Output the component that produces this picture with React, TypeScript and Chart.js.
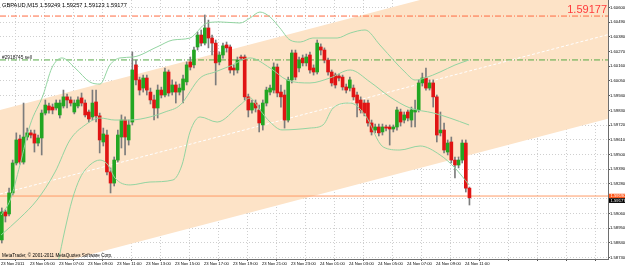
import React, { useEffect, useRef } from "react";
import { Chart, registerables } from "chart.js";

Chart.register(...registerables);

const FONT = '"Liberation Sans", Arial, sans-serif';

const headerText = "GBPAUD,M15 1.59249 1.59257 1.59123 1.59177";
const orderLabel = "#2918745 sell";
const copyrightText = "MetaTrader, \u00a9 2001-2011 MetaQuotes Software Corp.";
const alertText = "1.59177";

const timeLabels = [
  "23 Nov 2011", "23 Nov 05:00", "23 Nov 07:00", "23 Nov 09:00", "23 Nov 11:00",
  "23 Nov 13:00", "23 Nov 15:00", "23 Nov 17:00", "23 Nov 19:00", "23 Nov 21:00",
  "23 Nov 23:00", "24 Nov 01:00", "24 Nov 03:00", "24 Nov 05:00", "24 Nov 07:00",
  "24 Nov 09:00", "24 Nov 11:00",
];
const timeLabelBars = [0, 8, 16, 24, 32, 40, 48, 56, 64, 72, 80, 88, 96, 104, 112, 120, 128, 136, 144, 152, 160];

const priceTicks = [
  1.606, 1.6049, 1.6038, 1.6027, 1.6016, 1.6005, 1.5994, 1.5983, 1.5972,
  1.5961, 1.595, 1.5939, 1.5928, 1.5917, 1.5906, 1.5895, 1.5884, 1.5873,
];

const opens = [
  1.58862, 1.59071, 1.59056, 1.59213, 1.59437, 1.59616, 1.59444, 1.59631, 1.59662, 1.59654,
  1.59586, 1.59624, 1.59810, 1.59863, 1.59855, 1.59848, 1.59796, 1.59863, 1.59931, 1.59908,
  1.59818, 1.59863, 1.59923, 1.59885, 1.59818, 1.59781, 1.59893, 1.59789, 1.59594, 1.59646,
  1.59370, 1.59287, 1.59459, 1.59631, 1.59758, 1.59609, 1.59743, 1.60170, 1.60058, 1.59997,
  1.60072, 1.59967, 1.59908, 1.59848, 1.59982, 1.59945, 1.60117, 1.59967, 1.60020, 1.59967,
  1.59982, 1.60043, 1.60192, 1.60170, 1.60304, 1.60393, 1.60333, 1.60446, 1.60371, 1.60333,
  1.60192, 1.60244, 1.60319, 1.60304, 1.60147, 1.60132, 1.60229, 1.60229, 1.59931, 1.59833,
  1.59885, 1.59833, 1.59721, 1.59885, 1.59967, 1.59982, 1.60154, 1.59967, 1.59945, 1.59758,
  1.60058, 1.60259, 1.60147, 1.60221, 1.60185, 1.60244, 1.60147, 1.60117, 1.60304, 1.60281,
  1.60206, 1.60117, 1.60094, 1.60087, 1.60079, 1.60005, 1.59997, 1.59997, 1.59945, 1.59908,
  1.59885, 1.59885, 1.59736, 1.59683, 1.59706, 1.59669, 1.59706, 1.59706, 1.59691, 1.59706,
  1.59818, 1.59758, 1.59818, 1.59758, 1.59818, 1.59833, 1.60035, 1.60072, 1.59997, 1.60035,
  1.59931, 1.59662, 1.59683, 1.59519, 1.59594, 1.59459, 1.59422, 1.59459, 1.59586, 1.59249,
];
const highs = [
  1.59101, 1.59086, 1.59250, 1.59459, 1.59662, 1.59646, 1.59885, 1.59698, 1.59683, 1.59683,
  1.59646, 1.59833, 1.59908, 1.59885, 1.59878, 1.59908, 1.59908, 1.59982, 1.59952, 1.59931,
  1.59908, 1.59931, 1.59960, 1.59908, 1.59833, 1.59982, 1.59982, 1.59810, 1.59698, 1.59683,
  1.59400, 1.59482, 1.59683, 1.59796, 1.59781, 1.59758, 1.60266, 1.60206, 1.60079, 1.60094,
  1.60094, 1.59997, 1.59945, 1.60020, 1.60004, 1.60147, 1.60132, 1.60058, 1.60043, 1.60027,
  1.60094, 1.60192, 1.60229, 1.60304, 1.60416, 1.60431, 1.60543, 1.60505, 1.60393, 1.60356,
  1.60266, 1.60333, 1.60341, 1.60319, 1.60170, 1.60229, 1.60244, 1.60244, 1.59952, 1.59908,
  1.59908, 1.59870, 1.59908, 1.60004, 1.60020, 1.60185, 1.60177, 1.60020, 1.59982, 1.60079,
  1.60281, 1.60281, 1.60229, 1.60244, 1.60251, 1.60266, 1.60170, 1.60356, 1.60327, 1.60297,
  1.60221, 1.60132, 1.60109, 1.60102, 1.60094, 1.60027, 1.60079, 1.60020, 1.59967, 1.59931,
  1.59908, 1.59908, 1.59758, 1.59728, 1.59728, 1.59728, 1.59721, 1.59721, 1.59721, 1.59855,
  1.59840, 1.59818, 1.59833, 1.59855, 1.59908, 1.60058, 1.60109, 1.60147, 1.60058, 1.60058,
  1.59945, 1.59818, 1.59736, 1.59609, 1.59631, 1.59482, 1.59482, 1.59609, 1.59609, 1.59257,
];
const lows = [
  1.58839, 1.58996, 1.59041, 1.59198, 1.59422, 1.59429, 1.59429, 1.59609, 1.59624, 1.59519,
  1.59564, 1.59497, 1.59796, 1.59810, 1.59804, 1.59833, 1.59773, 1.59848, 1.59848, 1.59863,
  1.59804, 1.59848, 1.59863, 1.59781, 1.59743, 1.59758, 1.59743, 1.59512, 1.59564, 1.59347,
  1.59213, 1.59265, 1.59444, 1.59549, 1.59497, 1.59571, 1.59721, 1.60020, 1.59945, 1.59967,
  1.59945, 1.59878, 1.59758, 1.59773, 1.59923, 1.59931, 1.59937, 1.59945, 1.59885, 1.59945,
  1.59885, 1.60020, 1.60132, 1.60147, 1.60281, 1.60312, 1.60319, 1.60297, 1.60244, 1.60020,
  1.60170, 1.60221, 1.60266, 1.60109, 1.60094, 1.60109, 1.60206, 1.59908, 1.59781, 1.59810,
  1.59818, 1.59669, 1.59683, 1.59863, 1.59945, 1.59960, 1.59931, 1.59855, 1.59698, 1.59743,
  1.60035, 1.60058, 1.60117, 1.60162, 1.60162, 1.60109, 1.60094, 1.60102, 1.60244, 1.60185,
  1.60094, 1.60012, 1.59997, 1.60050, 1.59982, 1.59960, 1.59975, 1.59908, 1.59781, 1.59810,
  1.59789, 1.59713, 1.59646, 1.59662, 1.59639, 1.59646, 1.59676, 1.59571, 1.59669, 1.59683,
  1.59713, 1.59736, 1.59751, 1.59706, 1.59706, 1.59818, 1.60012, 1.59982, 1.59982, 1.59855,
  1.59594, 1.59639, 1.59512, 1.59497, 1.59437, 1.59325, 1.59400, 1.59437, 1.59220, 1.59123,
];
const closes = [
  1.59071, 1.59041, 1.59213, 1.59437, 1.59609, 1.59444, 1.59631, 1.59662, 1.59646, 1.59586,
  1.59624, 1.59810, 1.59870, 1.59833, 1.59833, 1.59885, 1.59885, 1.59931, 1.59908, 1.59885,
  1.59885, 1.59908, 1.59885, 1.59796, 1.59766, 1.59885, 1.59789, 1.59609, 1.59654, 1.59370,
  1.59287, 1.59459, 1.59646, 1.59758, 1.59631, 1.59721, 1.60132, 1.60058, 1.59982, 1.60072,
  1.59982, 1.59908, 1.59848, 1.59982, 1.59945, 1.60117, 1.59960, 1.60020, 1.59967, 1.59997,
  1.60065, 1.60170, 1.60154, 1.60281, 1.60393, 1.60333, 1.60446, 1.60371, 1.60333, 1.60185,
  1.60244, 1.60312, 1.60297, 1.60132, 1.60132, 1.60206, 1.60221, 1.59931, 1.59833, 1.59885,
  1.59848, 1.59736, 1.59885, 1.59982, 1.59997, 1.60154, 1.59960, 1.59931, 1.59758, 1.60058,
  1.60259, 1.60079, 1.60206, 1.60185, 1.60229, 1.60132, 1.60117, 1.60333, 1.60281, 1.60206,
  1.60117, 1.60035, 1.60020, 1.60072, 1.60005, 1.59982, 1.60058, 1.59931, 1.59885, 1.59833,
  1.59810, 1.59736, 1.59669, 1.59706, 1.59662, 1.59706, 1.59698, 1.59691, 1.59706, 1.59833,
  1.59743, 1.59796, 1.59773, 1.59833, 1.59833, 1.60035, 1.60072, 1.59997, 1.60035, 1.59931,
  1.59646, 1.59683, 1.59534, 1.59586, 1.59459, 1.59422, 1.59459, 1.59586, 1.59249, 1.59177,
];

const upperBandBars = [
  -0.2, 2.3, 5.0, 7.8, 11.4, 13.8, 16.6, 20.2, 24.3, 27.1, 29.8, 32.6, 36.2, 42.8, 47.2, 51.9,
  56.6, 60.2, 65.7, 68.5, 71.2, 74.0, 76.7, 79.5, 82.3, 85.8, 92.5, 96.1, 100.2, 104.3, 108.5,
  111.2, 114.0, 116.7, 120.9, 125.0, 128.9,
];
const upperBand = [
  1.59048, 1.5916, 1.59422, 1.59721, 1.59945, 1.60147, 1.60222, 1.60147, 1.60042, 1.60027,
  1.60169, 1.60222, 1.60229, 1.60304, 1.60356, 1.60371, 1.60483, 1.60491, 1.60483, 1.60521,
  1.60565, 1.60528, 1.60446, 1.60356, 1.60341, 1.60371, 1.60371, 1.60408, 1.60431, 1.60319,
  1.60192, 1.60117, 1.60057, 1.60072, 1.60117, 1.60169, 1.60207,
];
const middleBandBars = [
  -0.2, 5.0, 9.7, 14.7, 18.8, 23.0, 27.1, 31.2, 35.4, 40.9, 45.0, 49.2, 54.7, 58.8, 63.0, 68.5,
  74.0, 78.7, 85.0, 90.5, 96.1, 101.6, 107.1, 112.6, 119.0, 123.6, 128.9,
];
const middleBand = [
  1.58899, 1.59026, 1.5916, 1.5937, 1.59609, 1.59721, 1.59773, 1.59758, 1.59758, 1.59781,
  1.59818, 1.5987, 1.60072, 1.60117, 1.60162, 1.60222, 1.60147, 1.60057, 1.60035, 1.60072,
  1.60132, 1.60042, 1.5993, 1.59848, 1.59811, 1.59773, 1.59721,
];
const lowerBandBars = [
  13.3, 15.5, 17.4, 19.4, 21.6, 24.3, 27.1, 29.3, 31.2, 35.4, 40.9, 47.2, 49.7, 51.9, 54.7, 59.4,
  65.7, 68.5, 71.2, 74.0, 77.3, 85.0, 88.6, 91.4, 96.1, 100.2, 105.2, 109.8, 115.4, 120.9, 125.0, 128.9,
];
const lowerBand = [
  1.58488, 1.58697, 1.58936, 1.5916, 1.59325, 1.59422, 1.59459, 1.59422, 1.59325, 1.59273,
  1.59295, 1.5931, 1.59422, 1.59669, 1.59781, 1.59743, 1.5987, 1.59923, 1.59833, 1.59743,
  1.59684, 1.59698, 1.59721, 1.59848, 1.59885, 1.59796, 1.59557, 1.59534, 1.59564, 1.59497,
  1.594, 1.59273,
];

const channelBars = [-0.5, 167.2];
const channelUpper = [1.59833, 1.61023];
const channelMid = [1.59205, 1.60396];
const channelLower = [1.58577, 1.59768];

const alertLevel = 1.60535;
const orderLevel = 1.60207;
const lineLevel = 1.5919;
const lineLabel = "1.59190";
const bidPrice = 1.59177;

const X_MIN = -0.5;
const X_MAX = 167.22;
const Y_MIN = 1.587195;
const Y_MAX = 1.60655;

const overlayPlugin = {
  id: "mtOverlay",
  afterDraw(chart: any) {
    const { ctx, chartArea, scales } = chart;
    const ys = scales.y;
    ctx.save();
    ctx.textAlign = "left";
    ctx.textBaseline = "alphabetic";
    ctx.fillStyle = "#000000";
    ctx.font = `5.7px ${FONT}`;
    ctx.fillText(headerText, chartArea.left + 2, chartArea.top + 6.7);

    ctx.font = `4.8px ${FONT}`;
    ctx.fillStyle = "#222222";
    ctx.fillText(orderLabel, chartArea.left + 2, ys.getPixelForValue(orderLevel) - 1);

    ctx.font = `4.6px ${FONT}`;
    ctx.fillStyle = "#000000";
    ctx.fillText(copyrightText, chartArea.left + 2, chartArea.bottom - 2.5);

    ctx.font = `11px ${FONT}`;
    ctx.fillStyle = "#ff3a3a";
    ctx.textAlign = "right";
    ctx.fillText(alertText, chartArea.right - 1, ys.getPixelForValue(alertLevel) - 3.4);

    const axL = chartArea.right + 1;
    const w = 625 - axL;
    const yO = ys.getPixelForValue(lineLevel);
    const yB = Math.max(ys.getPixelForValue(bidPrice), yO + 4.5);
    ctx.textAlign = "left";
    ctx.textBaseline = "middle";
    ctx.font = `4.2px ${FONT}`;
    ctx.fillStyle = "#ff5a1e";
    ctx.fillRect(axL, yO - 2.3, w, 4.5);
    ctx.fillStyle = "#ffffff";
    ctx.fillText(lineLabel, axL + 1.5, yO);
    ctx.fillStyle = "#000000";
    ctx.fillRect(axL, yB - 2.3, w, 4.7);
    ctx.fillStyle = "#ffffff";
    ctx.fillText(bidPrice.toFixed(5), axL + 1.5, yB);
    ctx.restore();
  },
};

export default function App() {
  const ref = useRef<HTMLCanvasElement>(null);

  useEffect(() => {
    document.body.style.margin = "0";
    const canvas = ref.current;
    if (!canvas) return;
    const pts = (xs: number[], vs: number[]) => xs.map((x, i) => ({ x, y: vs[i] }));
    const idx = opens.map((_, i) => i);
    const bodyColors = idx.map((i) => (closes[i] >= opens[i] ? "#22a622" : "#e01414"));
    const lineDefaults = { type: "line" as const, pointRadius: 0, borderWidth: 1, fill: false };

    const chart = new Chart(canvas, {
      type: "line",
      data: {
        datasets: [
          {
            ...lineDefaults,
            data: pts(channelBars, channelUpper),
            borderWidth: 0,
            borderColor: "rgba(0,0,0,0)",
            backgroundColor: "#fde3c7",
            fill: "+1",
            order: 20,
          },
          {
            ...lineDefaults,
            data: pts(channelBars, channelLower),
            borderWidth: 0,
            borderColor: "rgba(0,0,0,0)",
            order: 19,
          },
          {
            ...lineDefaults,
            data: pts(channelBars, channelMid),
            borderColor: "#ffffff",
            borderDash: [3, 2],
            order: 18,
          },
          {
            ...lineDefaults,
            data: pts([X_MIN, X_MAX], [alertLevel, alertLevel]),
            borderColor: "#ff6a40",
            borderDash: [6, 2, 1, 2],
            order: 15,
          },
          {
            ...lineDefaults,
            data: pts([X_MIN, X_MAX], [orderLevel, orderLevel]),
            borderColor: "#55a844",
            borderDash: [6, 2, 1, 2],
            order: 15,
          },
          {
            ...lineDefaults,
            data: pts([X_MIN, X_MAX], [lineLevel, lineLevel]),
            borderColor: "#ff9a66",
            order: 15,
          },
          {
            type: "bar",
            data: idx.map((i) => ({ x: i, y: [lows[i], highs[i]] })),
            backgroundColor: "#7c7c7c",
            barThickness: 1,
            grouped: false,
            order: 12,
          } as any,
          {
            type: "bar",
            data: idx.map((i) => ({ x: i, y: [opens[i], closes[i]] })),
            backgroundColor: bodyColors,
            barThickness: 3,
            minBarLength: 1,
            grouped: false,
            order: 11,
          } as any,
          {
            ...lineDefaults,
            data: pts(upperBandBars, upperBand),
            borderColor: "#93d4a1",
            cubicInterpolationMode: "monotone",
            order: 1,
          },
          {
            ...lineDefaults,
            data: pts(middleBandBars, middleBand),
            borderColor: "#93d4a1",
            cubicInterpolationMode: "monotone",
            order: 1,
          },
          {
            ...lineDefaults,
            data: pts(lowerBandBars, lowerBand),
            borderColor: "#93d4a1",
            cubicInterpolationMode: "monotone",
            order: 1,
          },
        ] as any,
      },
      options: {
        responsive: false,
        maintainAspectRatio: false,
        devicePixelRatio: 1,
        animation: false,
        events: [],
        layout: { padding: 0 },
        plugins: {
          legend: { display: false },
          tooltip: { enabled: false },
          title: { display: false },
        },
        scales: {
          x: {
            type: "linear",
            min: X_MIN,
            max: X_MAX,
            offset: false,
            bounds: "data",
            afterBuildTicks: (s: any) => {
              s.ticks = timeLabelBars.map((b) => ({ value: b - 0.25 }));
            },
            afterFit: (s: any) => {
              s.height = 8;
              s.paddingLeft = 0;
              s.paddingRight = 0;
            },
            ticks: {
              autoSkip: false,
              maxRotation: 0,
              minRotation: 0,
              align: "start",
              padding: 0,
              color: "#000000",
              font: { size: 4.2, family: FONT },
              callback: (_v: any, i: number) => timeLabels[i] ?? "",
            },
            grid: {
              color: "#cfcfcf",
              lineWidth: 1,
              drawTicks: true,
              tickLength: 2,
              tickColor: "#555555",
              tickWidth: 1,
            },
            border: { display: true, color: "#6e6e6e", width: 1, dash: [1, 2] },
          },
          y: {
            type: "linear",
            position: "right",
            min: Y_MIN,
            max: Y_MAX,
            bounds: "data",
            afterBuildTicks: (s: any) => {
              s.ticks = priceTicks.map((v) => ({ value: v }));
            },
            afterFit: (s: any) => {
              s.width = 17;
              s.paddingTop = 0;
              s.paddingBottom = 0;
            },
            ticks: {
              autoSkip: false,
              padding: 0,
              color: "#000000",
              font: { size: 4.2, family: FONT },
              callback: (v: any) => Number(v).toFixed(5),
            },
            grid: {
              color: "#cfcfcf",
              lineWidth: 1,
              drawTicks: true,
              tickLength: 2,
              tickColor: "#555555",
              tickWidth: 1,
            },
            border: { display: true, color: "#6e6e6e", width: 1, dash: [1, 2] },
          },
        },
      } as any,
      plugins: [overlayPlugin],
    });
    return () => chart.destroy();
  }, []);

  return (
    <div style={{ width: 625, height: 267, position: "relative" }}>
      <canvas ref={ref} width={625} height={267} style={{ display: "block" }} />
    </div>
  );
}
